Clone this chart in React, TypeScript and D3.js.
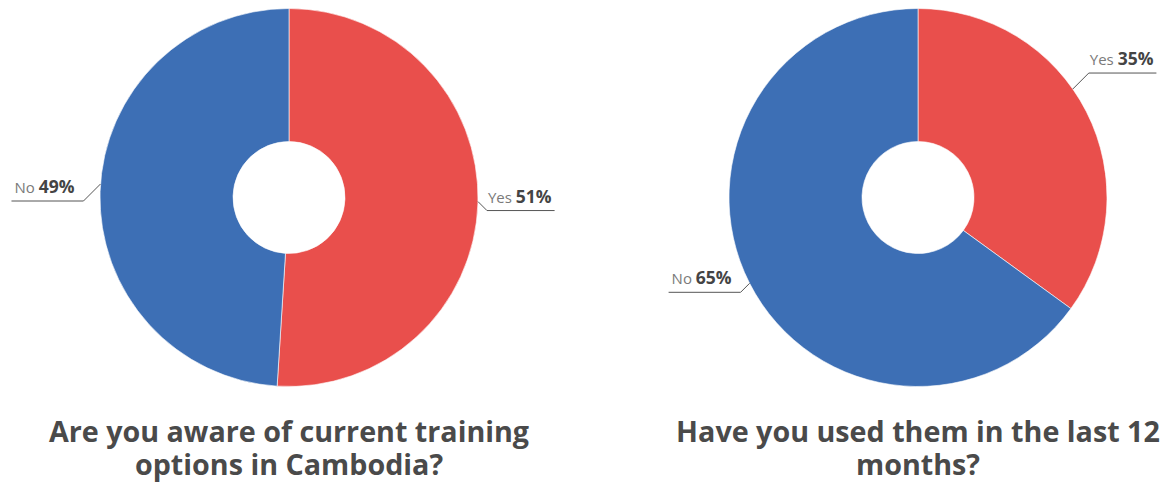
import React, { useEffect, useRef } from "react";
import * as d3 from "d3";

const categories = ["Yes", "No"];
const awareValues = [51, 49];
const usedValues = [35, 65];
const titles = [
  ["Are you aware of current training", "options in Cambodia?"],
  ["Have you used them in the last 12", "months?"],
];
const colors = ["#E94F4C", "#3D6FB5"];

const W = 1163;
const H = 486;
const FONT = "'Open Sans', Lato, sans-serif";

// label layout: angle shift of anchor and elbow offsets (dx, dy) from anchor for each pie & slice
const labelLayout = [
  [
    { angleShift: -0.01, ex: 9, ey: 9 },
    { angleShift: 0.04, ex: -17, ey: 17 },
  ],
  [
    { angleShift: -0.14, ex: 16, ey: -16 },
    { angleShift: 0, ex: -9, ey: 9 },
  ],
];

export default function App() {
  const ref = useRef<SVGSVGElement>(null);

  useEffect(() => {
    const svg = d3.select(ref.current);
    svg.selectAll("*").remove();
    const datasets = [awareValues, usedValues];
    const centers = [289, 918];
    const cy = 197.5;
    const outerR = 189;
    const innerR = 56;

    datasets.forEach((vals, pi) => {
      const data = categories.map((c, i) => ({ cat: c, value: vals[i], idx: i }));
      const pie = d3
        .pie<any>()
        .value((d) => d.value)
        .sort(null);
      const arcs = pie(data);
      const arc = d3.arc<any>().innerRadius(innerR).outerRadius(outerR);
      const g = svg.append("g").attr("transform", `translate(${centers[pi]},${cy})`);
      g.selectAll("path")
        .data(arcs)
        .enter()
        .append("path")
        .attr("d", arc as any)
        .attr("fill", (d: any) => colors[d.data.idx])
        .attr("stroke", "#ffffff")
        .attr("stroke-opacity", 0.6)
        .attr("stroke-width", 1);

      arcs.forEach((a: any, si) => {
        const lay = labelLayout[pi][si];
        const mid = (a.startAngle + a.endAngle) / 2 + lay.angleShift;
        const ax = Math.sin(mid) * outerR;
        const ay = -Math.cos(mid) * outerR;
        const ex = ax + lay.ex;
        const ey = ay + lay.ey;
        const right = Math.sin(mid) > 0;
        const lg = g.append("g");
        const txt = lg
          .append("text")
          .attr("font-family", FONT)
          .attr("y", ey - 8);
        txt
          .append("tspan")
          .attr("font-size", 15)
          .attr("fill", "#7a7a7a")
          .attr("font-weight", 400)
          .text(a.data.cat + " ");
        txt
          .append("tspan")
          .attr("font-size", 17.5)
          .attr("font-weight", 700)
          .attr("fill", "#444444")
          .text(a.data.value + "%");
        const tw = (txt.node() as SVGTextElement).getComputedTextLength();
        let lineEnd;
        if (right) {
          txt.attr("x", ex + 1);
          lineEnd = ex + tw + 4;
        } else {
          txt.attr("x", ex - 9 - tw);
          lineEnd = ex - 9 - tw - 3;
        }
        lg.append("path")
          .attr("d", `M${ax},${ay}L${ex},${ey}L${lineEnd},${ey}`)
          .attr("fill", "none")
          .attr("stroke", "#555555")
          .attr("stroke-width", 1);
      });

      titles[pi].forEach((line, li) => {
        svg
          .append("text")
          .attr("text-anchor", "middle")
          .attr("font-family", FONT)
          .attr("font-weight", 700)
          .attr("font-size", 28.7)
          .attr("fill", "#4a4a4a")
          .attr("x", centers[pi])
          .attr("y", 442 + li * 33)
          .text(line);
      });
    });
  }, []);

  return (
    <div style={{ position: "fixed", left: 0, top: 0, width: W, height: H, background: "#fff" }}>
      <svg ref={ref} width={W} height={H} />
    </div>
  );
}
